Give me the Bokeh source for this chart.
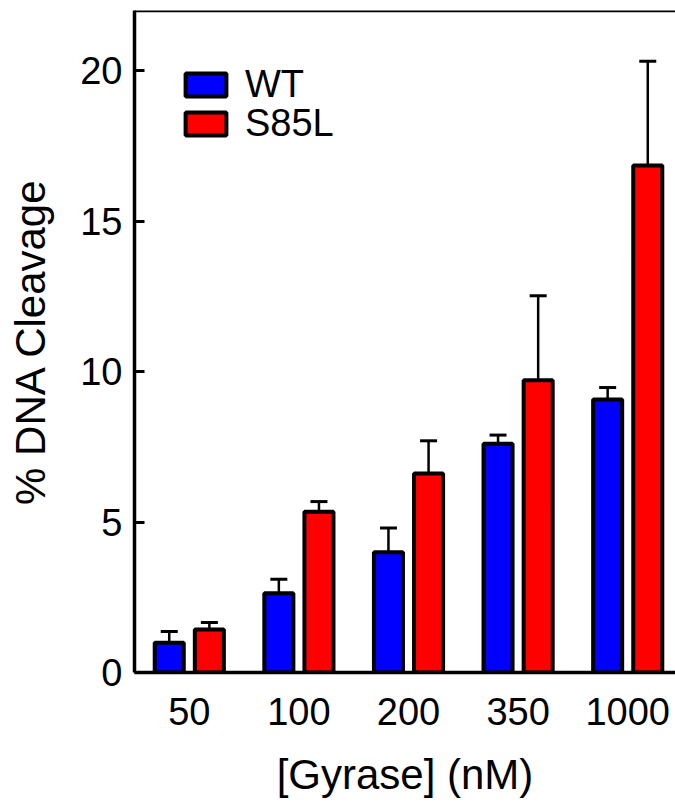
from bokeh.plotting import figure
from bokeh.models import (ColumnDataSource, Range1d, FixedTicker, Whisker, TeeHead,
                          Legend, LegendItem, Span)
from bokeh.transform import dodge
from bokeh.embed import file_html
from bokeh.resources import INLINE

# ---- data ----
concentrations = ["50", "100", "200", "350", "1000"]
wt = [0.99, 2.63, 4.00, 7.60, 9.07]
wt_err = [0.37, 0.47, 0.80, 0.29, 0.40]
s85l = [1.43, 5.34, 6.61, 9.71, 16.85]
s85l_err = [0.23, 0.34, 1.09, 2.81, 3.46]
y_ticks = [0, 5, 10, 15, 20]

idx = list(range(len(concentrations)))
src = ColumnDataSource(dict(
    x=idx,
    wt=wt, wt_up=[v + e for v, e in zip(wt, wt_err)],
    s=s85l, s_up=[v + e for v, e in zip(s85l, s85l_err)],
))

FONT = "Liberation Sans"
OFF = 0.183
BW = 0.265

p = figure(width=675, height=800,
           x_range=Range1d(-0.5, 4.436), y_range=Range1d(0, 22),
           output_backend="svg", toolbar_location=None,
           min_border_left=134, min_border_right=0,
           min_border_top=10, min_border_bottom=128)
p.outline_line_color = None
p.xgrid.visible = False
p.ygrid.visible = False

# error bars (upper only)
for col, up, off in (("wt", "wt_up", -OFF), ("s", "s_up", OFF)):
    w = Whisker(base=dodge("x", off), lower=col, upper=up, source=src,
                dimension="height", line_width=2.5, line_color="black",
                upper_head=TeeHead(size=17, line_width=3, line_color="black"),
                lower_head=None)
    p.add_layout(w)

r_wt = p.vbar(x=dodge("x", -OFF), top="wt", bottom=0, width=BW, source=src,
              fill_color="#0000FF", line_color="black", line_width=4)
r_s = p.vbar(x=dodge("x", OFF), top="s", bottom=0, width=BW, source=src,
             fill_color="#FF0000", line_color="black", line_width=4)

# top border line
p.add_layout(Span(location=22, dimension="width", line_color="black", line_width=3.5))

# axes
p.xaxis.ticker = FixedTicker(ticks=idx)
p.xaxis.major_label_overrides = {i: c for i, c in zip(idx, concentrations)}
p.xaxis.minor_tick_line_color = None
p.xaxis.axis_line_width = 3.5
p.xaxis.major_label_standoff = 19
p.xaxis.axis_label = "[Gyrase] (nM)"
p.xaxis.axis_label_standoff = 23

p.yaxis.ticker = FixedTicker(ticks=y_ticks)
p.yaxis.major_tick_in = 10
p.yaxis.major_tick_out = 0
p.yaxis.major_tick_line_width = 3
p.yaxis.minor_tick_line_color = None
p.yaxis.axis_line_width = 3.5
p.yaxis.major_label_standoff = 12
p.yaxis.axis_label = "% DNA Cleavage"
p.yaxis.axis_label_standoff = 23

for ax in (p.xaxis[0], p.yaxis[0]):
    ax.major_label_text_font = FONT
    ax.major_label_text_font_size = "38px"
    ax.major_label_text_color = "black"
    ax.axis_label_text_font = FONT
    ax.axis_label_text_font_size = "42px"
    ax.axis_label_text_font_style = "normal"
    ax.axis_label_text_color = "black"
    ax.axis_line_color = "black"
p.xaxis.major_tick_line_color = None
p.yaxis.major_tick_line_color = "black"

legend_style = dict(glyph_width=51, glyph_height=29,
                    label_text_font=FONT, label_text_font_size="38px",
                    label_text_color="black", label_standoff=14,
                    background_fill_alpha=0, border_line_color=None,
                    padding=0, margin=0)
p.add_layout(Legend(items=[LegendItem(label="WT", renderers=[r_wt])],
                    location=(46, 566), **legend_style))
p.add_layout(Legend(items=[LegendItem(label="S85L", renderers=[r_s])],
                    location=(46, 527), **legend_style))

open("out.html", "w").write(file_html(p, INLINE))
